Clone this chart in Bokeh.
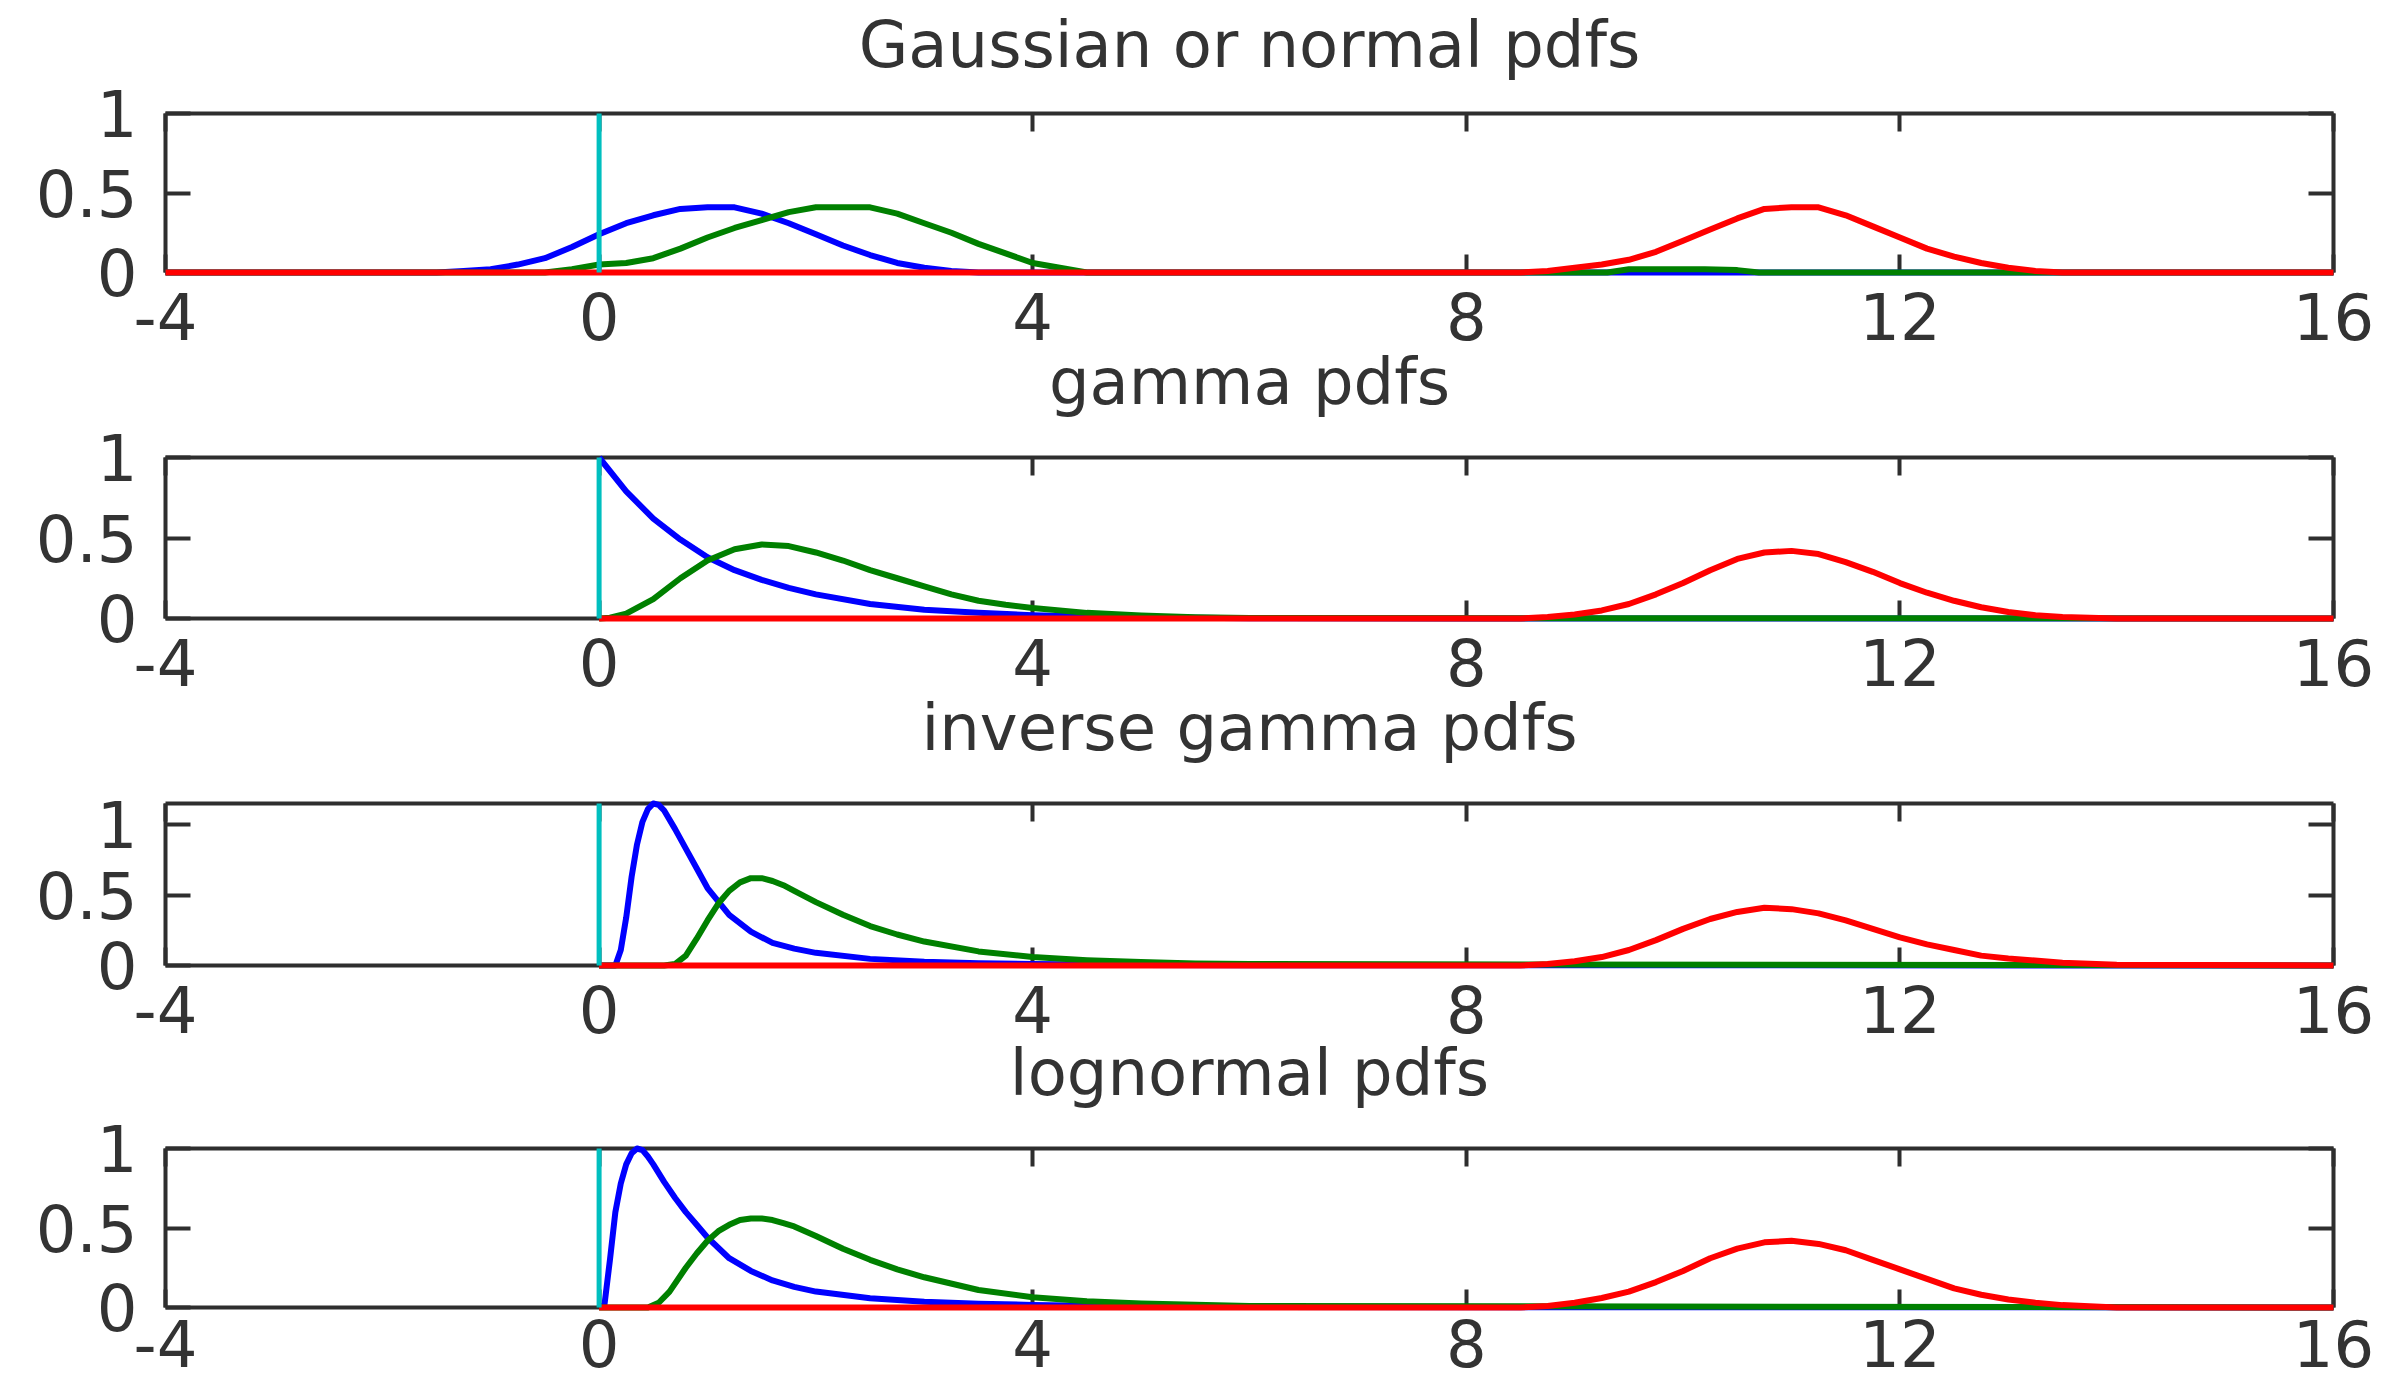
from bokeh.plotting import figure
from bokeh.layouts import column
from bokeh.models import LinearAxis, FixedTicker, Range1d, NumeralTickFormatter
from bokeh.embed import file_html
from bokeh.resources import INLINE

# ---- axes ---------------------------------------------------------------
x_ticks = [-4, 0, 4, 8, 12, 16]
y_ticks = [0, 0.5, 1]
titles = ["Gaussian or normal pdfs", "gamma pdfs", "inverse gamma pdfs", "lognormal pdfs"]
y_tops = [1.0, 1.0, 1.15, 1.0]

# ---- Gaussian / normal pdfs ----------------------------------------------
norm_blue_x = [-4, -1.5, -1.25, -1.0, -0.75, -0.5, -0.25, 0.0, 0.25, 0.5, 0.75, 1.0, 1.25,
               1.5, 1.75, 2.0, 2.25, 2.5, 2.75, 3.0, 3.25, 3.5, 16]
norm_blue_y = [0, 0, 0.01, 0.02, 0.05, 0.09, 0.16, 0.24, 0.31, 0.36, 0.40, 0.41, 0.41,
               0.37, 0.31, 0.24, 0.17, 0.11, 0.06, 0.03, 0.01, 0, 0]
norm_green_x = [-4, -0.5, -0.25, 0.0, 0.25, 0.5, 0.75, 1.0, 1.25, 1.5, 1.75, 2.0, 2.25, 2.5,
                2.75, 3.0, 3.25, 3.5, 3.75, 4.0, 4.25, 4.5, 9.3, 9.5, 9.8, 10.2, 10.5, 10.7, 16]
norm_green_y = [0, 0, 0.02, 0.05, 0.06, 0.09, 0.15, 0.22, 0.28, 0.33, 0.38, 0.41, 0.41, 0.41,
                0.37, 0.31, 0.25, 0.18, 0.12, 0.06, 0.03, 0, 0, 0.02, 0.02, 0.02, 0.015, 0, 0]
norm_red_x = [-4, 8.5, 8.75, 9.0, 9.25, 9.5, 9.75, 10.0, 10.25, 10.5, 10.75, 11.0, 11.25,
              11.5, 11.75, 12.0, 12.25, 12.5, 12.75, 13.0, 13.25, 13.5, 16]
norm_red_y = [0, 0, 0.01, 0.03, 0.05, 0.08, 0.13, 0.20, 0.27, 0.34, 0.40, 0.41, 0.41,
              0.36, 0.29, 0.22, 0.15, 0.10, 0.06, 0.03, 0.01, 0, 0]

# ---- gamma pdfs -----------------------------------------------------------
gam_blue_x = [0, 0.25, 0.5, 0.75, 1.0, 1.25, 1.5, 1.75, 2.0, 2.5, 3.0, 3.5, 4.0, 4.5, 5.0,
              6.0, 8.0, 16]
gam_blue_y = [1.0, 0.79, 0.62, 0.49, 0.38, 0.30, 0.24, 0.19, 0.15, 0.09, 0.055, 0.035, 0.02,
              0.012, 0.007, 0.002, 0, 0]
gam_green_x = [0, 0.1, 0.25, 0.5, 0.75, 1.0, 1.25, 1.5, 1.75, 2.0, 2.25, 2.5, 2.75, 3.0, 3.25,
               3.5, 3.75, 4.0, 4.5, 5.0, 5.5, 6.0, 16]
gam_green_y = [0, 0.005, 0.03, 0.12, 0.25, 0.36, 0.43, 0.46, 0.45, 0.41, 0.36, 0.30, 0.25,
               0.20, 0.15, 0.11, 0.085, 0.065, 0.035, 0.018, 0.008, 0.003, 0]
gam_red_x = [0, 8.5, 8.75, 9.0, 9.25, 9.5, 9.75, 10.0, 10.25, 10.5, 10.75, 11.0, 11.25, 11.5,
             11.75, 12.0, 12.25, 12.5, 12.75, 13.0, 13.25, 13.5, 14.0, 16]
gam_red_y = [0, 0, 0.01, 0.025, 0.05, 0.09, 0.15, 0.22, 0.30, 0.37, 0.41, 0.42, 0.40, 0.35,
             0.29, 0.22, 0.16, 0.11, 0.07, 0.04, 0.02, 0.01, 0, 0]

# ---- inverse gamma pdfs ---------------------------------------------------
igam_blue_x = [0, 0.15, 0.2, 0.25, 0.3, 0.35, 0.4, 0.45, 0.5, 0.55, 0.6, 0.7, 0.8, 0.9, 1.0,
               1.2, 1.4, 1.6, 1.8, 2.0, 2.5, 3.0, 3.5, 4.0, 5.0, 6.0, 16]
igam_blue_y = [0, 0.0, 0.11, 0.34, 0.63, 0.86, 1.02, 1.11, 1.15, 1.14, 1.10, 0.97, 0.83, 0.69,
               0.55, 0.36, 0.24, 0.16, 0.12, 0.09, 0.047, 0.026, 0.016, 0.01, 0.004, 0.002, 0]
igam_green_x = [0, 0.6, 0.7, 0.8, 0.9, 1.0, 1.1, 1.2, 1.3, 1.4, 1.5, 1.6, 1.7, 1.8, 2.0, 2.25,
                2.5, 2.75, 3.0, 3.5, 4.0, 4.5, 5.0, 5.5, 6.0, 16]
igam_green_y = [0, 0, 0.01, 0.07, 0.19, 0.32, 0.44, 0.53, 0.59, 0.62, 0.62, 0.60, 0.57, 0.53,
                0.45, 0.36, 0.28, 0.22, 0.17, 0.10, 0.06, 0.038, 0.024, 0.015, 0.01, 0]
igam_red_x = [0, 8.5, 8.75, 9.0, 9.25, 9.5, 9.75, 10.0, 10.25, 10.5, 10.75, 11.0, 11.25, 11.5,
              11.75, 12.0, 12.25, 12.5, 12.75, 13.0, 13.5, 14.0, 16]
igam_red_y = [0, 0, 0.01, 0.03, 0.06, 0.11, 0.18, 0.26, 0.33, 0.38, 0.41, 0.40, 0.37, 0.32,
              0.26, 0.20, 0.15, 0.11, 0.07, 0.05, 0.02, 0.005, 0]

# ---- lognormal pdfs -------------------------------------------------------
logn_blue_x = [0, 0.05, 0.1, 0.15, 0.2, 0.25, 0.3, 0.35, 0.4, 0.45, 0.5, 0.6, 0.7, 0.8, 0.9,
               1.0, 1.2, 1.4, 1.6, 1.8, 2.0, 2.5, 3.0, 3.5, 4.0, 5.0, 6.0, 16]
logn_blue_y = [0, 0.02, 0.30, 0.60, 0.78, 0.90, 0.97, 1.0, 0.99, 0.95, 0.90, 0.79, 0.69, 0.60,
               0.52, 0.44, 0.31, 0.23, 0.17, 0.13, 0.10, 0.058, 0.036, 0.024, 0.016, 0.007,
               0.003, 0]
logn_green_x = [0, 0.45, 0.55, 0.65, 0.8, 0.9, 1.0, 1.1, 1.2, 1.3, 1.4, 1.5, 1.6, 1.7, 1.8,
                2.0, 2.25, 2.5, 2.75, 3.0, 3.5, 4.0, 4.5, 5.0, 6.0, 16]
logn_green_y = [0, 0, 0.03, 0.10, 0.25, 0.34, 0.42, 0.48, 0.52, 0.55, 0.56, 0.56, 0.55, 0.53,
                0.51, 0.45, 0.37, 0.30, 0.24, 0.19, 0.11, 0.065, 0.04, 0.025, 0.01, 0]
logn_red_x = [0, 8.5, 8.75, 9.0, 9.25, 9.5, 9.75, 10.0, 10.25, 10.5, 10.75, 11.0, 11.25, 11.5,
              11.75, 12.0, 12.25, 12.5, 12.75, 13.0, 13.25, 13.5, 14.0, 16]
logn_red_y = [0, 0, 0.01, 0.03, 0.06, 0.10, 0.16, 0.23, 0.31, 0.37, 0.41, 0.42, 0.40, 0.36,
              0.30, 0.24, 0.18, 0.12, 0.08, 0.05, 0.03, 0.015, 0, 0]

curves = [
    [(norm_blue_x, norm_blue_y), (norm_green_x, norm_green_y), (norm_red_x, norm_red_y)],
    [(gam_blue_x, gam_blue_y), (gam_green_x, gam_green_y), (gam_red_x, gam_red_y)],
    [(igam_blue_x, igam_blue_y), (igam_green_x, igam_green_y), (igam_red_x, igam_red_y)],
    [(logn_blue_x, logn_blue_y), (logn_green_x, logn_green_y), (logn_red_x, logn_red_y)],
]

# ---- styling --------------------------------------------------------------
FONT = "DejaVu Sans"
FONT_SIZE = "64px"
BOX = "#2e2e2e"
TEXT = "#333333"
LINE_COLORS = ["#0000ff", "#008000", "#ff0000"]
MARKER_COLOR = "#00bfbf"

# page geometry of the stacked panels: figure height, top border, bottom border,
# x tick label standoff; headings of panels 2-4 hang under the x axis above them
fig_heights = [422, 346, 345, 273]
top_borders = [113, 35, 35, 35]
bottom_borders = [150, 150, 148, 79]
x_standoffs = [20, 20, 20, 12]
heading_below_standoffs = [2, 2, 0]
first_heading_standoff = 32


def style_axis(ax, ticks, tick_len, show_labels, standoff):
    ax.ticker = FixedTicker(ticks=ticks)
    ax.major_tick_in = tick_len
    ax.major_tick_out = 0
    ax.minor_tick_line_color = None
    ax.axis_line_width = 4
    ax.axis_line_color = BOX
    ax.major_tick_line_width = 4
    ax.major_tick_line_color = BOX
    ax.major_label_text_font = FONT
    ax.major_label_text_color = TEXT
    ax.major_label_standoff = standoff
    if show_labels:
        ax.major_label_text_font_size = FONT_SIZE
    else:
        ax.major_label_text_font_size = "0px"
        ax.major_label_text_alpha = 0


def style_heading(ax, text, standoff):
    ax.axis_label = text
    ax.axis_label_standoff = standoff
    ax.axis_label_text_font = FONT
    ax.axis_label_text_font_size = FONT_SIZE
    ax.axis_label_text_font_style = "normal"
    ax.axis_label_text_color = TEXT


panels = []
for i in range(4):
    ytop = y_tops[i]
    p = figure(width=2391, height=fig_heights[i], title=None,
               x_range=Range1d(-4, 16), y_range=Range1d(0, ytop),
               output_backend="svg", toolbar_location=None,
               min_border_left=165, min_border_right=58,
               min_border_top=top_borders[i], min_border_bottom=bottom_borders[i])
    p.background_fill_color = "white"
    p.border_fill_color = "white"
    p.outline_line_color = None
    p.xgrid.visible = False
    p.ygrid.visible = False

    style_axis(p.xaxis[0], x_ticks, 18, True, x_standoffs[i])
    p.xaxis[0].major_label_overrides = {-4: "-4"}
    if i < 3:
        style_heading(p.xaxis[0], titles[i + 1], heading_below_standoffs[i])
    style_axis(p.yaxis[0], y_ticks, 25, True, 28)
    p.yaxis[0].formatter = NumeralTickFormatter(format="0.[0]")

    top_ax = LinearAxis()
    style_axis(top_ax, x_ticks, 18, False, 0)
    if i == 0:
        style_heading(top_ax, titles[0], first_heading_standoff)
    p.add_layout(top_ax, "above")

    right_ax = LinearAxis()
    style_axis(right_ax, y_ticks, 25, False, 0)
    p.add_layout(right_ax, "right")

    for (xs, ys), col in zip(curves[i], LINE_COLORS):
        r = p.line(xs, ys, line_color=col, line_width=6, line_join="round")
        r.level = "overlay"
    r = p.line([0, 0], [0, ytop], line_color=MARKER_COLOR, line_width=5)
    r.level = "overlay"

    panels.append(p)

layout = column(*panels, spacing=0)
open("out.html", "w").write(file_html(layout, INLINE))
